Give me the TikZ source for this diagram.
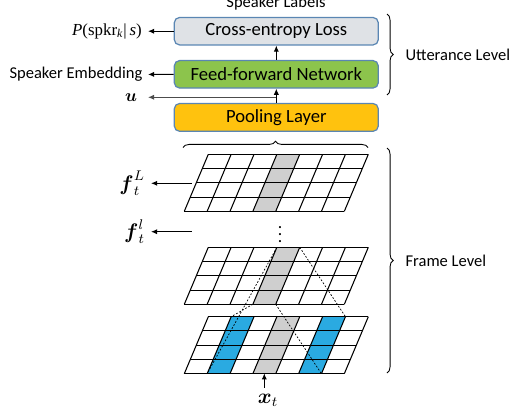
\documentclass[tikz,border=0pt]{standalone}
\usepackage{amsmath}
\usepackage{amssymb}
\usepackage[no-math]{fontspec}
\setmainfont{Carlito}
\newfontfamily\timesfont{Liberation Serif}
\usetikzlibrary{arrows.meta,decorations.pathreplacing}
\definecolor{boxline}{HTML}{5A86B3}
\definecolor{lossgray}{HTML}{DFE2E6}
\definecolor{ffngreen}{HTML}{8CC44C}
\definecolor{poolorange}{HTML}{FFC20E}
\definecolor{cellgray}{HTML}{CFCFCF}
\definecolor{cellblue}{HTML}{2AAAE1}

\begin{document}
\begin{tikzpicture}[x=0.02cm,y=-0.02cm,
	box/.style={draw=boxline,line width=0.7pt,rounded corners=3pt,minimum width=4.08cm,minimum height=0.55cm,font=\fontsize{10.6}{12}\selectfont},
	side/.style={font=\fontsize{9.4}{11}\selectfont},
	arr/.style={-{Latex[length=3.5pt,width=3pt]},line width=0.6pt},
	gridline/.style={line width=0.6pt},
	brace/.style={decorate,decoration={brace,amplitude=3.5pt},line width=0.5pt}]
	\useasboundingbox (0,0) rectangle (514,416);
	\node[box,fill=lossgray] (loss) at (276.3,31.2) {Cross-entropy Loss};
	\node[box,fill=ffngreen] (ffn) at (276.3,74.3) {Feed-forward Network};
	\node[box,fill=poolorange] (pool) at (276.3,117.4) {Pooling Layer};
	\node[side,anchor=base] (labels) at (276,7.5) {Speaker Labels};
	\node[anchor=east,font=\timesfont\fontsize{9.6}{11}\selectfont] (prob) at (148,31.2) {\textit{P}(spkr\textsubscript{\textit{k}}|\,\textit{s})};
	\node[side,anchor=east,inner xsep=3pt] (emb) at (148,74.5) {Speaker Embedding};
	\node[anchor=east,inner xsep=6pt] (uvec) at (148,97.3) {$\boldsymbol{u}$};
	\draw[arr] (loss) -- (prob);
	\draw[arr] (ffn) -- (emb);
	\draw[arr] (pool) -- (ffn);
	\draw[arr] (ffn) -- (loss);
	\draw[arr,black!70] (pool.north |- uvec) -- (uvec);
	\foreach \g/\gy in {A/154.3,B/247.3,C/316.7}{
		\foreach \c in {0,...,7}{
			\foreach \r in {0,...,4}{
				\coordinate (\g-\c-\r) at ({208.3+22.86*\c-6*\r},{\gy+14.25*\r});
			}
		}
	}
	\foreach \g/\c/\col in {A/3/cellgray,B/3/cellgray,C/3/cellgray,C/1/cellblue,C/5/cellblue}{
		\pgfmathtruncatemacro{\d}{\c+1}
		\fill[\col] (\g-\c-0) -- (\g-\d-0) -- (\g-\d-4) -- (\g-\c-4) -- cycle;
	}
	\foreach \g in {A,B,C}{
		\foreach \r in {0,...,4} \draw[gridline] (\g-0-\r) -- (\g-7-\r);
		\foreach \c in {0,...,7} \draw[gridline] (\g-\c-0) -- (\g-\c-4);
	}
	\draw[line width=0.4pt,dash pattern=on 1pt off 1pt] (B-3-0) -- (C-1-4) (B-3-4) -- (C-1-0) (B-4-0) -- (C-6-0) (B-4-4) -- (C-6-4);
	\node[font=\boldmath] (dots) at (280,229) {$\vdots$};
	\coordinate (fLs) at (191.7,183.3);
	\coordinate (fls) at (191.7,231.7);
	\node[anchor=east,font=\large] (fL) at (151,183.3) {$\boldsymbol{f}_t^L$};
	\node[anchor=east,font=\large] (fl) at (151,231.7) {$\boldsymbol{f}_t^l$};
	\draw[arr] (fLs) -- (fL);
	\draw[arr] (fls) -- (fl);
	\coordinate (xin) at (264.3,373.3);
	\node[font=\large] (xt) at (268,400) {$\boldsymbol{x}_t$};
	\draw[arr] (xt.north -| xin) -- (xin);
	\draw[brace] (183,147.5) -- (368,147.5);
	\draw[brace] (387,14) -- (387,95) node[side,midway,right=7pt] (utt) {Utterance Level};
	\draw[brace] (387,148) -- (387,373) node[side,midway,right=7pt] (frame) {Frame Level};
\end{tikzpicture}
\end{document}
